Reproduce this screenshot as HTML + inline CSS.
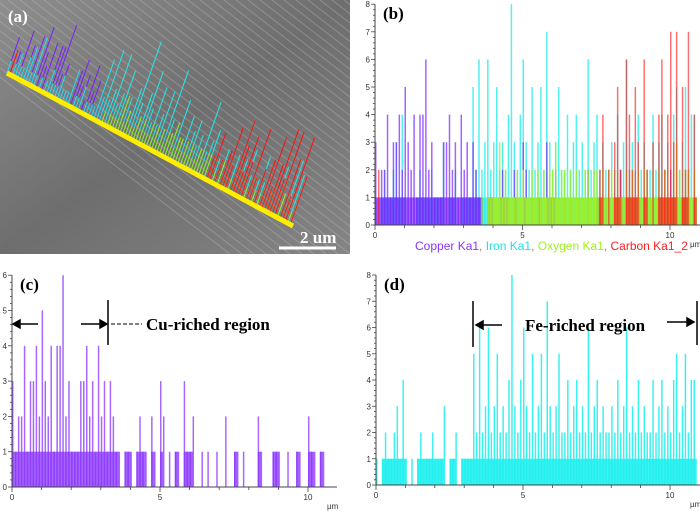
<!DOCTYPE html>
<html><head><meta charset="utf-8"><style>
body{margin:0;background:#fff;}
svg{display:block;font-family:"Liberation Sans",sans-serif;}
.tl{font-size:8px;fill:#333;}
.pl{font-family:"Liberation Serif",serif;font-weight:bold;font-size:17px;}
</style></head><body>
<svg id="fig" width="700" height="511" viewBox="0 0 700 511">
<defs>
<linearGradient id="sem" x1="0" y1="0" x2="1" y2="1">
<stop offset="0" stop-color="#8e8e8e"/><stop offset="0.5" stop-color="#6e6e6e"/><stop offset="1" stop-color="#858585"/>
</linearGradient>
<clipPath id="clipA"><rect x="0" y="0" width="350" height="254"/></clipPath>
</defs>
<g id="panelA" clip-path="url(#clipA)">
<rect x="0" y="0" width="350" height="254" fill="url(#sem)"/>
<g id="fibers" stroke="#c4c4c4" stroke-width="1" opacity="0.35"></g>
</g>
<g id="panelB"></g>
<g id="panelC"></g>
<g id="panelD"></g>
</svg>
<script>
const positions=[0,0.1,0.2,0.3,0.4,0.5,0.6,0.7,0.8,0.9,1.0,1.1,1.2,1.3,1.4,1.5,1.6,1.7,1.8,1.9,2.0,2.1,2.2,2.3,2.4,2.5,2.6,2.7,2.8,2.9,3.0,3.1,3.2,3.3,3.4,3.5,3.6,3.7,3.8,3.9,4.0,4.1,4.2,4.3,4.4,4.5,4.6,4.7,4.8,4.9,5.0,5.1,5.2,5.3,5.4,5.5,5.6,5.7,5.8,5.9,6.0,6.1,6.2,6.3,6.4,6.5,6.6,6.7,6.8,6.9,7.0,7.1,7.2,7.3,7.4,7.5,7.6,7.7,7.8,7.9,8.0,8.1,8.2,8.3,8.4,8.5,8.6,8.7,8.8,8.9,9.0,9.1,9.2,9.3,9.4,9.5,9.6,9.7,9.8,9.9,10.0,10.1,10.2,10.3,10.4,10.5,10.6,10.7,10.8];
const copper=[3,1,2,2,4,1,3,3,4,2, 5,3,2,4,1,4,4,6,2,3, 1,1,1,3,3,4,2,3,1,4, 2,3,1,3,2,1,1,0,1,1, 1,0,1,2,1,1,0,2,1,0, 3,2,0,1,0,1,1,0,3,1, 1,2,0,0,1,0,1,0,0,1, 0,0,2,0,0,1,1,0,1,0, 0,0,0,2,1,0,0,0,1,1, 1,0,0,1,0,0,1,1,0,0, 2,1,1,0,1,1,0,0,0];
const iron=[1,0,1,2,1,1,2,3,1,4, 1,0,1,0,1,2,1,1,1,2, 1,1,1,3,0,1,1,2,0,1, 1,1,1,5,2,6,2,3,6,2, 3,5,2,3,2,4,8,3,2,4, 6,3,2,5,2,3,5,2,7,3, 2,3,5,2,2,4,2,3,4,2, 3,2,6,2,3,4,2,3,2,2, 3,2,4,2,3,6,2,3,2,4, 2,3,2,2,4,2,3,4,2,3, 2,4,5,2,3,5,2,4,4];
const oxygen=[0,0,0,0,0,0,0,0,0,0, 0,0,0,0,0,0,0,0,0,0, 0,0,0,0,0,0,0,0,0,0, 0,0,0,0,0,0,1,0,1,1, 1,1,3,1,2,1,1,1,2,1, 2,1,1,2,1,2,1,2,1,2, 2,3,1,2,2,1,2,1,2,1, 1,2,2,1,2,2,1,2,1,2, 2,1,2,1,1,2,1,2,1,2, 1,2,2,1,2,1,2,1,2,2, 1,2,3,2,1,2,2,1,2];
const carbon=[0,2,0,0,0,0,0,0,0,0, 0,0,0,0,0,0,0,0,0,0, 0,0,0,0,0,0,0,0,0,0, 0,0,0,0,0,0,0,0,0,0, 0,0,0,0,0,0,0,0,0,0, 0,0,0,0,0,0,0,0,0,0, 0,0,0,0,0,0,0,0,0,0, 0,0,0,0,0,0,2,4,0,2, 0,3,5,2,0,6,4,2,5,3, 0,6,2,0,3,0,4,6,2,4, 7,3,7,0,5,2,7,0,4];
const yTicksB=[0,1,2,3,4,5,6,7,8];
const yTicksC=[0,1,2,3,4,5,6];
const xTickLabels=[0,5,10];

const NS="http://www.w3.org/2000/svg";
function mk(parent,tag,attrs){const e=document.createElementNS(NS,tag);for(const k in attrs)e.setAttribute(k,attrs[k]);parent.appendChild(e);return e;}

const fib=document.getElementById('fibers');
for(let i=0;i<40;i++){
  const l=mk(fib,'line',{x1:-100+i*12,y1:0,x2:-100+i*12+330,y2:254});
  
  
}
const A=document.getElementById('panelA');
const bx0=7,by0=73,bx1=293,by1=226;
const seriesA=[[copper,'#7a1fff'],[iron,'#22e8e8'],[oxygen,'#9be81a'],[carbon,'#ff1010']];
const spikeScale=12;
seriesA.forEach(([arr,col])=>{
  arr.forEach((v,i)=>{
    if(!v)return;
    const t=positions[i]/10.9;
    const x=bx0+(bx1-bx0)*t, y=by0+(by1-by0)*t;
    const ln=mk(A,'line',{x1:x,y1:y,x2:x+v*spikeScale*0.35,y2:y-v*spikeScale,stroke:col,'stroke-width':1});
    
    
  });
});
const yl=mk(A,'line',{x1:bx0,y1:by0,x2:bx1,y2:by1,stroke:'#ffee00','stroke-width':5});


const sb=mk(A,'line',{x1:279,y1:248,x2:336,y2:248,stroke:'#fff','stroke-width':3});


const sbt=mk(A,'text',{x:300,y:243,fill:'#fff',class:'pl','font-size':'14'});sbt.textContent='2 um';


const la=mk(A,'text',{x:8,y:22,fill:'#fff',class:'pl'});la.textContent='(a)';



function chart(g,cfg){
  const X=v=>cfg.x0+v*cfg.xs, Y=v=>cfg.y0-v*cfg.ys;
  const full=cfg.xs*0.1;
  const bw=full*0.5;
  cfg.series.forEach(([arr,col,op])=>{
    arr.forEach((v,i)=>{
      if(!v)return;
      const nxt=arr[i+1]===undefined?v:arr[i+1];
      const base=Math.min(v,nxt,1);
      if(base>0){
        const b=mk(g,'rect',{x:X(positions[i]),y:Y(base),width:full+0.3,height:Y(0)-Y(base),fill:col,opacity:op});
        
        
      }
      const r=mk(g,'rect',{x:X(positions[i]),y:Y(v),width:bw,height:Y(0)-Y(v),fill:col,opacity:op});
      
      
    });
  });
  const ax=mk(g,'path',{d:`M${cfg.x0} ${Y(cfg.ymax)}V${cfg.y0}H${cfg.xEnd}`,stroke:'#444',fill:'none','stroke-width':1});
  
  
  for(let v=0;v<=cfg.ymax*5;v++){
    const yy=Y(v/5);
    const tk=mk(g,'line',{x1:cfg.x0-(v%5?2:4),y1:yy,x2:cfg.x0,y2:yy,stroke:'#444','stroke-width':0.8});
    
    
  }
  cfg.yTicks.forEach(v=>{
    const t=mk(g,'text',{x:cfg.x0-5,y:Y(v)+3,'text-anchor':'end',class:'tl'});t.textContent=v;
    
    
  });
  for(let v=0;v<=10;v++){
    const tk=mk(g,'line',{x1:X(v),y1:cfg.y0,x2:X(v),y2:cfg.y0+(v%5?3:5),stroke:'#444','stroke-width':0.8});
    
    
  }
  xTickLabels.forEach(v=>{
    const t=mk(g,'text',{x:X(v),y:cfg.y0+13,'text-anchor':'middle',class:'tl'});t.textContent=v;
    
    
  });
  const u=mk(g,'text',{x:cfg.xEnd-10,y:cfg.y0+22,class:'tl','font-size':'7'});u.textContent='µm';
  
  
  const lb=mk(g,'text',{x:cfg.x0+8,y:Y(cfg.ymax)+15,class:'pl'});lb.textContent=cfg.label;
  
  
}
chart(document.getElementById('panelB'),{x0:375,y0:225,xs:29.5,ys:27.6,ymax:8,xEnd:700,yTicks:yTicksB,label:'(b)',
  series:[[iron,'#30eeee',0.85],[copper,'#7a1fff',0.7],[oxygen,'#a0f020',0.8],[carbon,'#ff2020',0.65]]});
chart(document.getElementById('panelC'),{x0:12,y0:487,xs:29.6,ys:35.3,ymax:6,xEnd:337,yTicks:yTicksC,label:'(c)',
  series:[[copper,'#8a33ff',0.75]]});
chart(document.getElementById('panelD'),{x0:376,y0:485,xs:29.4,ys:26.25,ymax:8,xEnd:700,yTicks:yTicksB,label:'(d)',
  series:[[iron,'#22f0f0',0.9]]});

const leg=mk(document.getElementById('panelB'),'text',{x:415,y:250,'font-size':'12'});


[['Copper Ka1','#8a33ff'],[', ','#888'],['Iron Ka1','#22e0e0'],[', ','#888'],['Oxygen Ka1','#a0f020'],[', ','#888'],['Carbon Ka1_2','#ff2020']].forEach(([t,c])=>{
  const s=mk(leg,'tspan',{fill:c});s.textContent=t;
});

const C=document.getElementById('panelC');
C.insertAdjacentHTML('beforeend',`
<g stroke="#000" stroke-width="1.5" fill="#000">
<line x1="108" y1="300" x2="108" y2="345"/>
<line x1="14" y1="324" x2="38" y2="324"/><path d="M13 324 l7 -4 v8z"/>
<line x1="81" y1="324" x2="100" y2="324"/><path d="M107 324 l-7 -4 v8z"/>
<line x1="111" y1="324" x2="142" y2="324" stroke-width="1" stroke-dasharray="4 2"/>
</g>
<text x="146" y="330" class="pl">Cu-riched region</text>`);
const D=document.getElementById('panelD');
D.insertAdjacentHTML('beforeend',`
<g stroke="#000" stroke-width="1.5" fill="#000">
<line x1="473" y1="301" x2="473" y2="347"/>
<line x1="697" y1="301" x2="697" y2="345"/>
<line x1="483" y1="325" x2="502" y2="325"/><path d="M476 325 l7 -4 v8z"/>
<line x1="667" y1="322" x2="687" y2="322"/><path d="M694 322 l-7 -4 v8z"/>
</g>
<text x="525" y="331" class="pl">Fe-riched region</text>`);
</script>
</body></html>
